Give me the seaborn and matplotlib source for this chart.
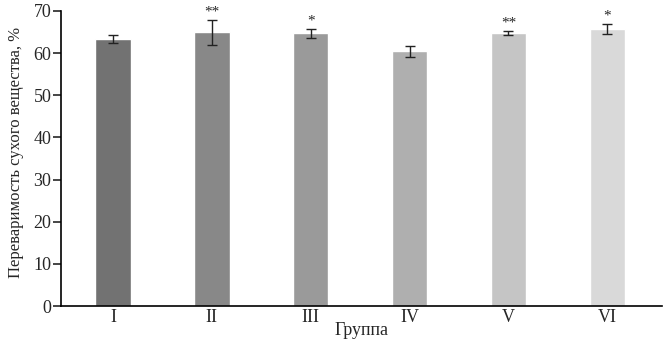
import numpy as np
import seaborn as sns
import matplotlib.pyplot as plt

groups = ['I', 'II', 'III', 'IV', 'V', 'VI']
values = [63.4, 64.9, 64.7, 60.4, 64.7, 65.7]
errors = [1.0, 3.0, 1.0, 1.3, 0.5, 1.2]
stars = ['', '**', '*', '', '**', '*']
colors = ['#727272', '#888888', '#9a9a9a', '#afafaf', '#c5c5c5', '#d9d9d9']

sns.set_style('ticks')
plt.rcParams['font.family'] = ['Liberation Serif', 'DejaVu Serif']

fig = plt.figure(figsize=(6.68, 3.42), dpi=100)
ax = fig.add_axes([0.0913, 0.105, 0.9, 0.863])

sns.barplot(x=groups, y=values, hue=groups, palette=colors, legend=False,
            width=0.36, saturation=1, ax=ax)
ax.errorbar(x=np.arange(len(groups)), y=values, yerr=errors, fmt='none',
            ecolor='#222222', elinewidth=1, capsize=3.5, capthick=1)

# звёздочки достоверности
for i, (v, e, s) in enumerate(zip(values, errors, stars)):
    if s:
        ax.text(i, v + e + 0.4, s, ha='center', va='bottom', fontsize=11)

ax.set_ylim(0, 70)
ax.set_xlim(-0.525, 5.555)
ax.set_yticks(range(0, 71, 10))
ax.tick_params(axis='y', labelsize=13, length=6, width=1.2, direction='out', pad=1)
ax.tick_params(axis='x', labelsize=13, length=0, pad=2)
ax.set_ylabel('Переваримость сухого вещества, %', fontsize=12)
ax.yaxis.set_label_coords(-0.062, 0.519)
ax.set_xlabel('Группа', fontsize=13, labelpad=-3)
sns.despine(ax=ax)
for sp in ['left', 'bottom']:
    ax.spines[sp].set_linewidth(1.2)
    ax.spines[sp].set_color('black')

fig.savefig('out.png', dpi=100)
